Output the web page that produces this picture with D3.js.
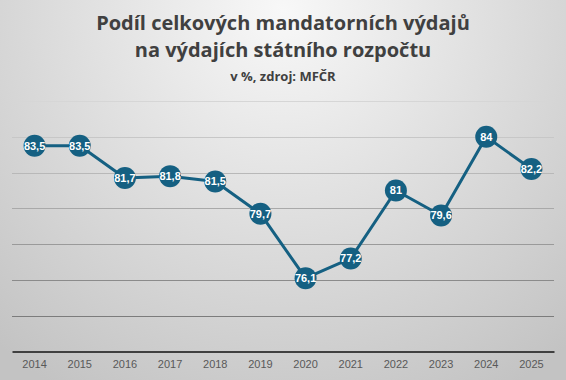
<!DOCTYPE html>
<head>
<meta charset="utf-8">
<script src="https://d3js.org/d3.v7.min.js"></script>
<style>
  body { margin: 0; }
</style>
</head>
<body>
<svg width="566" height="380"></svg>
<script>

// data
let years = ["2014", "2015", "2016", "2017", "2018", "2019", "2020", "2021", "2022", "2023", "2024", "2025"];
let values = [83.5, 83.5, 81.7, 81.8, 81.5, 79.7, 76.1, 77.2, 81, 79.6, 84, 82.2];
let gridTicks = [74, 76, 78, 80, 82, 84, 86];

let svg = d3.select("svg");
let width = +svg.attr("width"),
    height = +svg.attr("height");

let blue = "#156082";

// background gradient
let defs = svg.append("defs");
let grad = defs.append("radialGradient")
    .attr("id", "bg")
    .attr("gradientUnits", "userSpaceOnUse")
    .attr("cx", 283).attr("cy", 10).attr("r", 440);
grad.append("stop").attr("offset", "0%").attr("stop-color", "#f8f8f8");
grad.append("stop").attr("offset", "100%").attr("stop-color", "#c3c3c3");

svg.append("rect")
    .attr("width", width)
    .attr("height", height)
    .attr("fill", "url(#bg)");

// titles
let title = svg.append("g")
    .attr("font-family", "'Open Sans', Roboto, sans-serif")
    .attr("font-weight", "bold")
    .attr("fill", "#404040")
    .attr("text-anchor", "middle");

title.append("text")
    .attr("x", width / 2).attr("y", 30)
    .attr("font-size", 20)
    .text("Podíl celkových mandatorních výdajů");
title.append("text")
    .attr("x", width / 2).attr("y", 57)
    .attr("font-size", 20)
    .text("na výdajích státního rozpočtu");
title.append("text")
    .attr("x", width / 2).attr("y", 81)
    .attr("font-size", 13)
    .text("v %, zdroj: MFČR");

// scales
let x = d3.scaleBand()
    .domain(years)
    .range([12, 554]);

let y = d3.scaleLinear()
    .domain([72, 86])
    .range([351.5, 101]);

let gridColor = d3.scaleLinear()
    .domain([74, 86])
    .range(["#7c7c7c", "#d6d6d6"]);

// gridlines
svg.append("g")
    .selectAll("line")
    .data(gridTicks)
    .enter().append("line")
      .attr("x1", 12)
      .attr("x2", 554)
      .attr("y1", function(d) { return Math.round(y(d)) + 0.5; })
      .attr("y2", function(d) { return Math.round(y(d)) + 0.5; })
      .attr("stroke", gridColor)
      .attr("stroke-width", 1);

// x axis
let xAxis = svg.append("g")
    .attr("transform", "translate(0," + y(72) + ")")
    .call(d3.axisBottom(x).tickSize(0).tickPadding(9));

xAxis.select(".domain")
    .attr("stroke", "#404040")
    .attr("stroke-width", 2);

xAxis.selectAll("text")
    .attr("font-family", "'Liberation Sans', Arial, sans-serif")
    .attr("font-size", 11)
    .attr("fill", "#595959");

// line
let cx = function(d, i) { return x(years[i]) + x.bandwidth() / 2; };

svg.append("path")
    .datum(values)
    .attr("fill", "none")
    .attr("stroke", blue)
    .attr("stroke-width", 3)
    .attr("stroke-linejoin", "round")
    .attr("d", d3.line()
        .x(cx)
        .y(function(d) { return y(d); }));

// markers and labels
let pts = svg.append("g")
    .selectAll("g")
    .data(values)
    .enter().append("g")
      .attr("transform", function(d, i) { return "translate(" + cx(d, i) + "," + y(d) + ")"; });

pts.append("circle")
    .attr("r", 11)
    .attr("fill", blue);

pts.append("text")
    .attr("text-anchor", "middle")
    .attr("dy", "0.36em")
    .attr("font-family", "'Liberation Sans', Arial, sans-serif")
    .attr("font-weight", "bold")
    .attr("font-size", 11)
    .attr("fill", "#fff")
    .text(function(d) { return String(d).replace(".", ","); });

</script>
</body>
